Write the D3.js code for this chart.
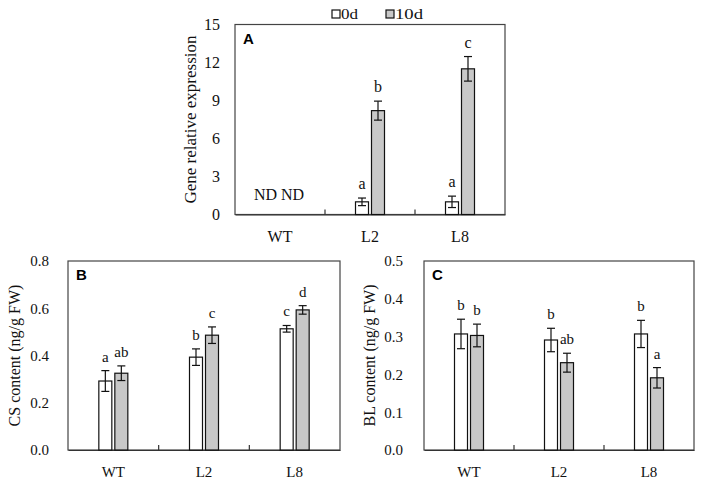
<!DOCTYPE html>
<html>
<head>
<meta charset="utf-8">
<script src="https://cdn.jsdelivr.net/npm/d3@7/dist/d3.min.js"></script>
<style>
  html, body { margin: 0; padding: 0; background: #fff; }
  svg { display: block; }
  text { font-family: "Liberation Serif", "Times New Roman", serif; fill: #111; }
  text.panel-label { font-family: "Liberation Sans", Arial, sans-serif; font-weight: bold; fill: #000; }
</style>
</head>
<body>
<svg id="chart" width="704" height="483"></svg>
<script>
// ---------- data ----------
const categories = ["WT", "L2", "L8"];
const seriesNames = ["0d", "10d"];

const geneDay0 = [null, 1.0, 1.0];
const geneDay0Err = [null, 0.3, 0.45];
const geneDay10 = [null, 8.2, 11.5];
const geneDay10Err = [null, 0.75, 0.97];
const geneDay0Letters = ["", "a", "a"];
const geneDay10Letters = ["", "b", "c"];
const geneTicks = [0, 3, 6, 9, 12, 15];

const csDay0 = [0.292, 0.393, 0.513];
const csDay0Err = [0.044, 0.035, 0.014];
const csDay10 = [0.325, 0.486, 0.593];
const csDay10Err = [0.031, 0.035, 0.018];
const csDay0Letters = ["a", "b", "c"];
const csDay10Letters = ["ab", "c", "d"];
const csTicks = [0, 0.2, 0.4, 0.6, 0.8];

const blDay0 = [0.307, 0.291, 0.307];
const blDay0Err = [0.039, 0.031, 0.036];
const blDay10 = [0.303, 0.231, 0.191];
const blDay10Err = [0.03, 0.025, 0.027];
const blDay0Letters = ["b", "b", "b"];
const blDay10Letters = ["b", "ab", "a"];
const blTicks = [0, 0.1, 0.2, 0.3, 0.4, 0.5];

// ---------- drawing ----------
const svg = d3.select("#chart");
const fills = { "0d": "#ffffff", "10d": "#c8c8c8" };

function panel(cfg) {
  const { left, top, width, height, tickVals, fmt, label, yTitle, titleX, titleSize, fs,
          s0, e0, s10, e10, l0, l10, labelGap, ndText } = cfg;
  const g = svg.append("g");
  const x = d3.scaleBand().domain(categories).range([left, left + width]).padding(0);
  const y = d3.scaleLinear().domain([tickVals[0], tickVals[tickVals.length - 1]]).range([top + height, top]);
  const barW = 13, gap = 3;

  // frame
  g.append("rect").attr("x", left).attr("y", top).attr("width", width).attr("height", height)
    .attr("fill", "none").attr("stroke", "#444").attr("stroke-width", 1.2);

  // y axis labels (no tick marks)
  const yAxis = d3.axisLeft(y).tickValues(tickVals).tickFormat(fmt).tickSize(0).tickPadding(labelGap);
  const ya = g.append("g").attr("transform", `translate(${left},0)`).call(yAxis);
  ya.select(".domain").remove();
  ya.selectAll("text").attr("font-size", fs).attr("fill", "#111");

  // x axis
  const xAxis = d3.axisBottom(x).tickSize(0).tickPadding(16);
  const xa = g.append("g").attr("transform", `translate(0,${top + height})`).call(xAxis);
  xa.select(".domain").attr("stroke", "#333").attr("stroke-width", 1.2);
  xa.selectAll("text").attr("font-size", fs).attr("fill", "#111");
  // inner category separator ticks
  g.selectAll(".sep").data(categories.slice(1)).enter().append("line")
    .attr("x1", d => x(d)).attr("x2", d => x(d))
    .attr("y1", top + height).attr("y2", top + height - 5)
    .attr("stroke", "#333").attr("stroke-width", 1.2);

  // bars
  const groups = [
    { vals: s0, errs: e0, letters: l0, off: -gap / 2 - barW, fill: fills["0d"] },
    { vals: s10, errs: e10, letters: l10, off: gap / 2, fill: fills["10d"] }
  ];
  groups.forEach(gr => {
    categories.forEach((c, i) => {
      const v = gr.vals[i];
      if (v === null) return;
      const cx = x(c) + x.bandwidth() / 2 + gr.off;
      g.append("rect").attr("x", cx).attr("y", y(v)).attr("width", barW)
        .attr("height", y(0) - y(v)).attr("fill", gr.fill)
        .attr("stroke", "#111").attr("stroke-width", 1.2);
      const mx = cx + barW / 2, e = gr.errs[i];
      const yt = y(v + e), yb = y(v - e);
      g.append("line").attr("x1", mx).attr("x2", mx).attr("y1", yt).attr("y2", yb)
        .attr("stroke", "#111").attr("stroke-width", 1.2);
      [yt, yb].forEach(yy => g.append("line").attr("x1", mx - 4).attr("x2", mx + 4)
        .attr("y1", yy).attr("y2", yy).attr("stroke", "#111").attr("stroke-width", 1.2));
      if (gr.letters[i]) {
        g.append("text").attr("x", mx).attr("y", yt - 9).attr("text-anchor", "middle")
          .attr("font-size", fs).text(gr.letters[i]);
      }
    });
  });

  if (ndText) {
    g.append("text").attr("x", x("WT") + x.bandwidth() / 2 - 1).attr("y", y(0) - 15)
      .attr("text-anchor", "middle").attr("font-size", fs).text(ndText);
  }

  // panel letter
  g.append("text").attr("class", "panel-label").attr("x", left + 8).attr("y", top + 19)
    .attr("font-size", 15).text(label);

  // y title
  g.append("text").attr("transform", `translate(${titleX},${top + height / 2}) rotate(-90)`)
    .attr("text-anchor", "middle").attr("font-size", titleSize).text(yTitle);
}

panel({ left: 235, top: 24.5, width: 270, height: 190, tickVals: geneTicks, fmt: d3.format("d"),
  label: "A", yTitle: "Gene relative expression", titleX: 196, titleSize: 17, fs: 16, labelGap: 15,
  s0: geneDay0, e0: geneDay0Err, s10: geneDay10, e10: geneDay10Err,
  l0: geneDay0Letters, l10: geneDay10Letters, ndText: "ND ND" });

panel({ left: 68, top: 261, width: 272, height: 189, tickVals: csTicks, fmt: d3.format(".1f"),
  label: "B", yTitle: "CS content (ng/g FW)", titleX: 20, titleSize: 16, fs: 15, labelGap: 19,
  s0: csDay0, e0: csDay0Err, s10: csDay10, e10: csDay10Err,
  l0: csDay0Letters, l10: csDay10Letters });

panel({ left: 424, top: 261, width: 270, height: 189, tickVals: blTicks, fmt: d3.format(".1f"),
  label: "C", yTitle: "BL content (ng/g FW)", titleX: 375, titleSize: 16, fs: 15, labelGap: 21,
  s0: blDay0, e0: blDay0Err, s10: blDay10, e10: blDay10Err,
  l0: blDay0Letters, l10: blDay10Letters });

// legend
const legend = svg.append("g");
const legX = [332, 386];
const legW = [17, 28];
seriesNames.forEach((s, i) => {
  legend.append("rect").attr("x", legX[i]).attr("y", 10).attr("width", 8).attr("height", 8)
    .attr("fill", fills[s]).attr("stroke", "#111").attr("stroke-width", 1.2);
  legend.append("text").attr("x", legX[i] + 9).attr("y", 19).attr("font-size", 15)
    .attr("textLength", legW[i]).attr("lengthAdjust", "spacingAndGlyphs").text(s);
});
</script>
</body>
</html>
